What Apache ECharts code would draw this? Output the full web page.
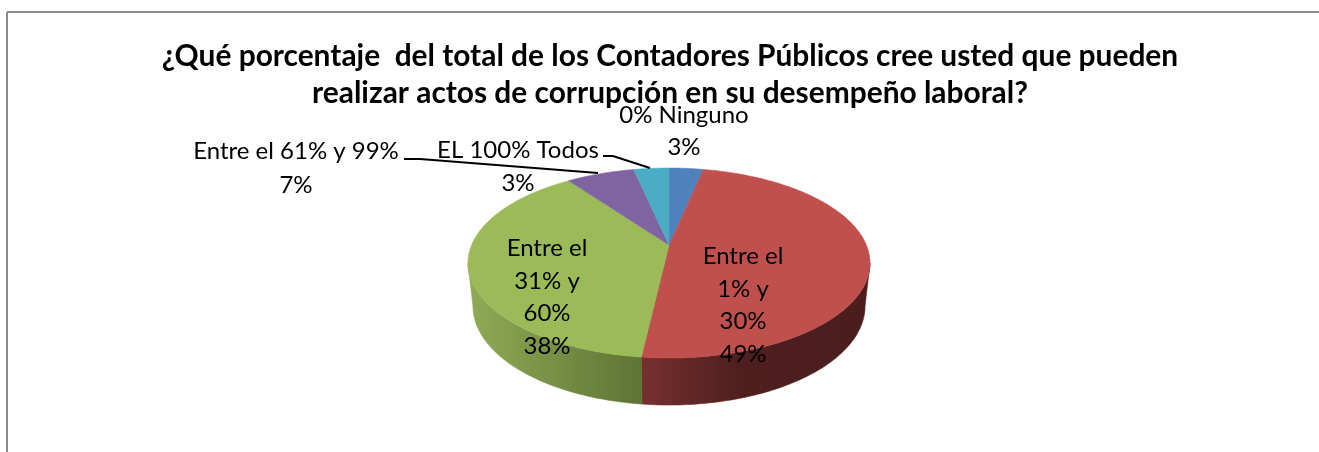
<!DOCTYPE html>
<html>
<head>
<meta charset="utf-8">
<style>html,body{margin:0;padding:0;background:#fff}#c{width:1319px;height:452px}</style>
<script src="https://cdn.jsdelivr.net/npm/echarts@6/dist/echarts.min.js"></script>
</head>
<body>
<div id="c"></div>
<script>
const titleText = '¿Qué porcentaje  del total de los Contadores Públicos cree usted que pueden\nrealizar actos de corrupción en su desempeño laboral?';
const categories = ['0% Ninguno', 'Entre el 1% y 30%', 'Entre el 31% y 60%', 'Entre el 61% y 99%', 'EL 100% Todos'];
const values = [3.3, 48.52, 38.2, 6.58, 3.4];
const colors = ['#4f81bd', '#c0504d', '#9bbb59', '#8064a2', '#4bacc6'];

const total = values.reduce((a, b) => a + b, 0);
const FONT = 'Lato, "Liberation Sans", sans-serif';

// projection of the pie disc (perspective, as in the spreadsheet 3-D pie)
const top3d = { cx: 669, cy: 245, a: 197.4, b: 91.6 };
const bot3d = { cx: 669, cy: 287.2, a: 192.5, b: 95.5 };
const K = 0.1895;
const silhouette = Math.acos(-K);   // angle of the right-hand tangent of the disc
function project(p, theta) {
  const u = Math.sin(theta), v = -Math.cos(theta), w = 1 - K * v;
  return [p.cx + p.a * u / w, p.cy + p.b * v / w];
}
function angleRange(i) {
  let s = 0;
  for (let j = 0; j < i; j++) s += values[j];
  return [s / total * 2 * Math.PI, (s + values[i]) / total * 2 * Math.PI];
}
function arc(p, r) {
  const n = Math.max(2, Math.ceil((r[1] - r[0]) / (Math.PI / 180)));
  const out = [];
  for (let i = 0; i <= n; i++) out.push(project(p, r[0] + (r[1] - r[0]) * i / n));
  return out;
}
const sideFill = {
  1: { x: [643, 870], stops: [[0, '#75302e'], [0.42, '#4f1f1e'], [1, '#4a1d1c']] },
  2: { x: [472, 643], stops: [[0, '#8fa955'], [1, '#5f7335']] }
};

// label layout: lines with their centre positions
const labelLayout = [
  { x: 684, y: [115, 147], lines: ['0% Ninguno', null] },
  { x: 743, y: [256, 289, 321, 354], lines: ['Entre el', '1% y', '30%', null] },
  { x: 547, y: [248, 281, 313, 346], lines: ['Entre el', '31% y', '60%', null] },
  { x: 296, y: [151, 185], lines: [categories[3], null] },
  { x: 518, y: [150, 183], lines: [categories[4], null] }
];
const leaders = [
  [[404, 159], [420, 159], [598, 173]],
  [[603, 156], [613, 156], [650, 168]]
];

const option = {
  animation: false,
  backgroundColor: '#fff',
  title: {
    text: titleText,
    left: 665, top: 33, textAlign: 'center',
    textStyle: { fontFamily: FONT, fontWeight: 'bold', fontSize: 29.9, lineHeight: 37, color: '#000' }
  },
  graphic: [
    { type: 'line', silent: true, shape: { x1: 7, y1: 12, x2: 1319, y2: 12 }, style: { stroke: '#8c8c8c', lineWidth: 2 } },
    { type: 'line', silent: true, shape: { x1: 7, y1: 12, x2: 7, y2: 452 }, style: { stroke: '#8c8c8c', lineWidth: 2 } }
  ],
  series: [
    {
      type: 'custom', coordinateSystem: 'none', silent: true, z: 1,
      data: values,
      renderItem: function (params) {
        const i = params.dataIndex, r = angleRange(i);
        const from = Math.max(r[0], silhouette), to = Math.min(r[1], 2 * Math.PI - silhouette);
        const f = sideFill[i];
        if (!f || from >= to) return { type: 'group', children: [] };   // hidden behind the top face
        const fill = new echarts.graphic.LinearGradient(f.x[0], 0, f.x[1], 0,
          f.stops.map(s => ({ offset: s[0], color: s[1] })), true);
        const pts = arc(top3d, [from, to]).concat(arc(bot3d, [from, to]).reverse());
        return { type: 'polygon', shape: { points: pts }, style: { fill: fill, stroke: fill, lineWidth: 0.6 } };
      }
    },
    {
      type: 'custom', coordinateSystem: 'none', silent: true, z: 2,
      data: values,
      renderItem: function (params) {
        const i = params.dataIndex, r = angleRange(i);
        const pts = [[top3d.cx, top3d.cy]].concat(arc(top3d, r));
        return { type: 'polygon', shape: { points: pts },
          style: { fill: colors[i], stroke: colors[i], lineWidth: 0.5 } };
      }
    },
    {
      type: 'custom', coordinateSystem: 'none', silent: true, z: 3,
      data: values,
      renderItem: function (params, api) {
        const i = params.dataIndex, l = labelLayout[i];
        const pct = Math.round(api.value(0) / total * 100) + '%';
        const children = l.lines.map((t, k) => ({
          type: 'text',
          style: { text: t === null ? pct : t, x: l.x, y: l.y[k], align: 'center', verticalAlign: 'middle',
            fontFamily: FONT, fontSize: 24, fill: '#000' }
        }));
        if (leaders[i - 3]) {
          children.unshift({ type: 'polyline', shape: { points: leaders[i - 3] },
            style: { stroke: '#000', lineWidth: 2, fill: null } });
        }
        return { type: 'group', children: children };
      }
    }
  ]
};
const chart = echarts.init(document.getElementById('c'), null, { renderer: 'canvas' });
chart.setOption(option);
</script>
</body>
</html>
